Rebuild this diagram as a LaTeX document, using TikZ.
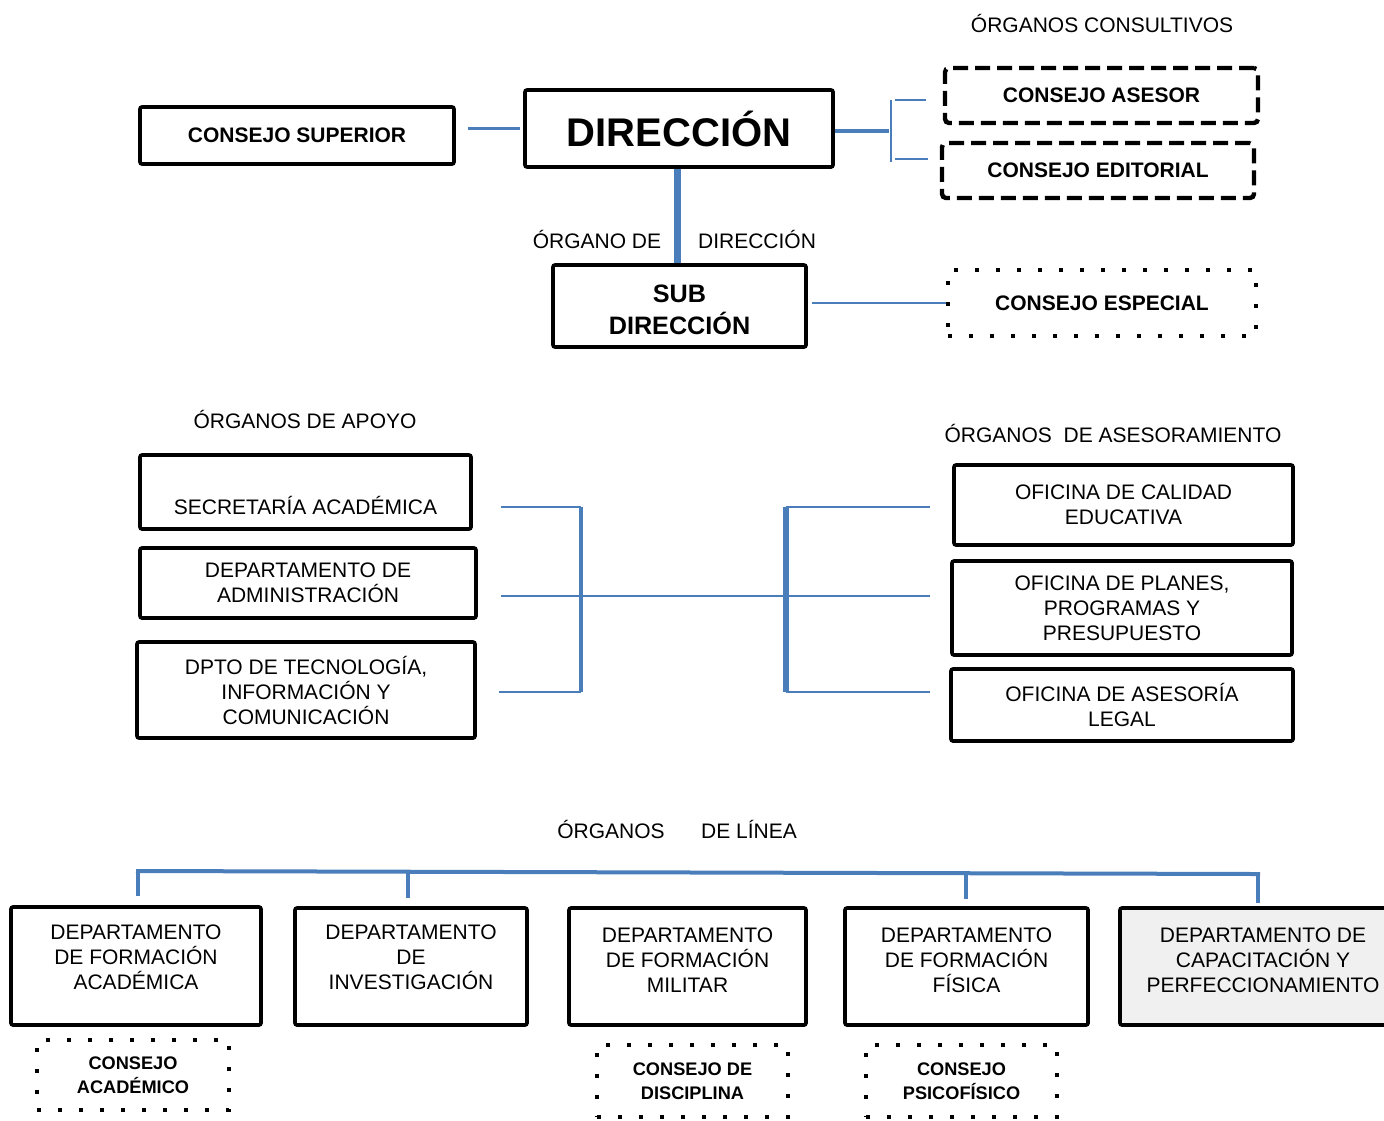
\documentclass[tikz,border=0pt]{standalone}
\usepackage{fontspec}
\setmainfont{Liberation Sans}
\definecolor{lb}{RGB}{74,126,187}
\definecolor{lightfill}{RGB}{240,240,240}
\tikzset{
  box/.style={draw=black, line width=1.8pt, rounded corners=1pt, inner sep=0pt, align=center, font=\fontsize{10.5}{12.5}\selectfont},
  boldbox/.style={box, font=\fontsize{10.5}{12.5}\selectfont\bfseries},
  dashbox/.style={boldbox, line width=2.2pt, dash pattern=on 7.5pt off 3.5pt, rounded corners=2pt},
  dotbox/.style={draw=black, line width=2pt, dash pattern=on 2pt off 8.5pt, inner sep=0pt, align=center, font=\fontsize{9.1}{12}\selectfont\bfseries},
  lbl/.style={inner sep=0pt, anchor=base, font=\fontsize{10.5}{12.5}\selectfont},
  cthin/.style={draw=lb, line width=1pt},
  cmid/.style={draw=lb, line width=1.6pt},
  cthick/.style={draw=lb, line width=2pt},
  cbold/.style={draw=lb, line width=3pt},
  cheavy/.style={draw=lb, line width=3.5pt},
}
\newcommand{\bx}[7]{%
  \pgfmathsetmacro\myBW{(#4-#2)*0.5}%
  \pgfmathsetmacro\myBH{(#5-#3)*0.5}%
  \pgfmathsetmacro\myCX{(#2+#4)/2}%
  \pgfmathsetmacro\myCY{(#3+#5)/2}%
  \node[#6, minimum width=\myBW pt, minimum height=\myBH pt] (#1) at (\myCX,\myCY) {#7};}
\begin{document}
\begin{tikzpicture}[x=0.5pt, y=-0.5pt]
\useasboundingbox (0,0) rectangle (1384,1120);

% labels
\node[lbl] (l1) at (1102,32) {ÓRGANOS CONSULTIVOS};
\node[lbl] (l2) at (597,248) {ÓRGANO DE};
\node[lbl] (l3) at (757,248) {DIRECCIÓN};
\node[lbl] (l4) at (305,428) {ÓRGANOS DE APOYO};
\node[lbl] (l5) at (1113,442) {ÓRGANOS\ \ DE ASESORAMIENTO};
\node[lbl] (l6) at (611,838) {ÓRGANOS};
\node[lbl] (l7) at (749,838) {DE LÍNEA};

% top
\bx{sup}{140}{107}{454}{164}{boldbox}{CONSEJO SUPERIOR}
\bx{dir}{525}{90}{833}{167}{boldbox, font=\fontsize{20}{24}\selectfont\bfseries}{DIRECCIÓN}
\bx{ase}{945}{68}{1258}{123}{dashbox}{CONSEJO ASESOR}
\bx{edi}{942}{143}{1254}{198}{dashbox}{CONSEJO EDITORIAL}
\bx{sub}{553}{265}{806}{347}{boldbox, font=\fontsize{12.6}{16}\selectfont\bfseries}{\rule{0pt}{13pt}SUB\\DIRECCIÓN}
\bx{esp}{948}{270}{1256}{336}{dotbox, font=\fontsize{10.5}{12.5}\selectfont\bfseries}{CONSEJO ESPECIAL}

% middle
\bx{sec}{140}{455}{471}{529}{box}{\mbox{}\\[10.5pt]SECRETARÍA ACADÉMICA}
\bx{adm}{140}{548}{476}{618}{box}{DEPARTAMENTO DE\\ADMINISTRACIÓN}
\bx{tec}{137}{642}{475}{738}{box}{DPTO DE TECNOLOGÍA,\\INFORMACIÓN Y\\COMUNICACIÓN}
\bx{cal}{954}{465}{1293}{545}{box}{OFICINA DE CALIDAD\\EDUCATIVA}
\bx{pla}{952}{561}{1292}{655}{box}{OFICINA DE PLANES,\\PROGRAMAS Y\\PRESUPUESTO}
\bx{leg}{951}{669}{1293}{741}{box}{OFICINA DE ASESORÍA\\LEGAL}

% bottom
\bx{d1}{11}{907}{261}{1025}{box}{DEPARTAMENTO\\DE FORMACIÓN\\ACADÉMICA\\[-3.5pt]\mbox{}}
\bx{d2}{295}{908}{527}{1025}{box}{DEPARTAMENTO\\DE\\INVESTIGACIÓN\\[-3.5pt]\mbox{}}
\bx{d3}{569}{908}{806}{1025}{box}{DEPARTAMENTO\\DE FORMACIÓN\\MILITAR\\[-6pt]\mbox{}}
\bx{d4}{845}{908}{1088}{1025}{box}{DEPARTAMENTO\\DE FORMACIÓN\\FÍSICA\\[-6pt]\mbox{}}
\bx{d5}{1120}{908}{1406}{1025}{box, fill=lightfill}{DEPARTAMENTO DE\\CAPACITACIÓN Y\\PERFECCIONAMIENTO\\[-6pt]\mbox{}}
\bx{ca}{37}{1040}{229}{1110}{dotbox}{CONSEJO\\ACADÉMICO}
\bx{cd}{597}{1045}{788}{1117}{dotbox}{CONSEJO DE\\DISCIPLINA}
\bx{cp}{866}{1045}{1057}{1117}{dotbox}{CONSEJO\\PSICOFÍSICO}

% top connectors
\draw[cmid, shorten <=6pt, shorten >=1.5pt] (sup.east |- dir.west) -- (dir.west);
\coordinate (j1) at (889,131);
\coordinate (jt) at (891,100);
\coordinate (jb) at (891,162);
\coordinate (b1) at (895,100);
\coordinate (b2) at (895,159);
\draw[cmid] (dir.east |- j1) -- (j1);
\draw[cthin] (jt) -- (jb);
\draw[cthin, shorten >=8.5pt] (b1) -- (b1 -| ase.west);
\draw[cthin, shorten >=6pt] (b2) -- (b2 -| edi.west);
\draw[cheavy] (dir.south -| 677,0) -- (sub.north -| 677,0);
\draw[cthin, shorten <=2pt] (sub.east |- esp.west) -- (esp.west);

% middle connectors
\coordinate (la) at (501,507);
\coordinate (lb) at (501,596);
\coordinate (lc) at (499,692);
\coordinate (lv1) at (581,507);
\coordinate (lv2) at (581,692);
\coordinate (rv1) at (786,507);
\coordinate (rv2) at (786,692);
\coordinate (ra) at (930,507);
\coordinate (rb) at (930,596);
\coordinate (rc) at (930,692);
\draw[cthin] (la) -- (lv1);
\draw[cthin] (lc) -- (lv2);
\draw[cthin] (lb) -- (rb);
\draw[cmid] (lv1) -- (lv2);
\draw[cbold] (rv1) -- (rv2);
\draw[cthin] (rv1) -- (ra);
\draw[cthin] (rv2) -- (rc);

% bottom connectors
\coordinate (bl) at (138,871);
\coordinate (t2) at (408,872);
\coordinate (t4) at (966,873);
\coordinate (br) at (1258,874);
\draw[cthick, line cap=rect] (bl) -- (br);
\draw[cthick, shorten >=4.5pt] (bl) -- (bl |- d1.north);
\draw[cthick, shorten >=4pt] (t2) -- (t2 |- d2.north);
\draw[cthick, shorten >=3.5pt] (t4) -- (t4 |- d4.north);
\draw[cthick, shorten >=1.5pt] (br) -- (br |- d5.north);
\end{tikzpicture}
\end{document}
